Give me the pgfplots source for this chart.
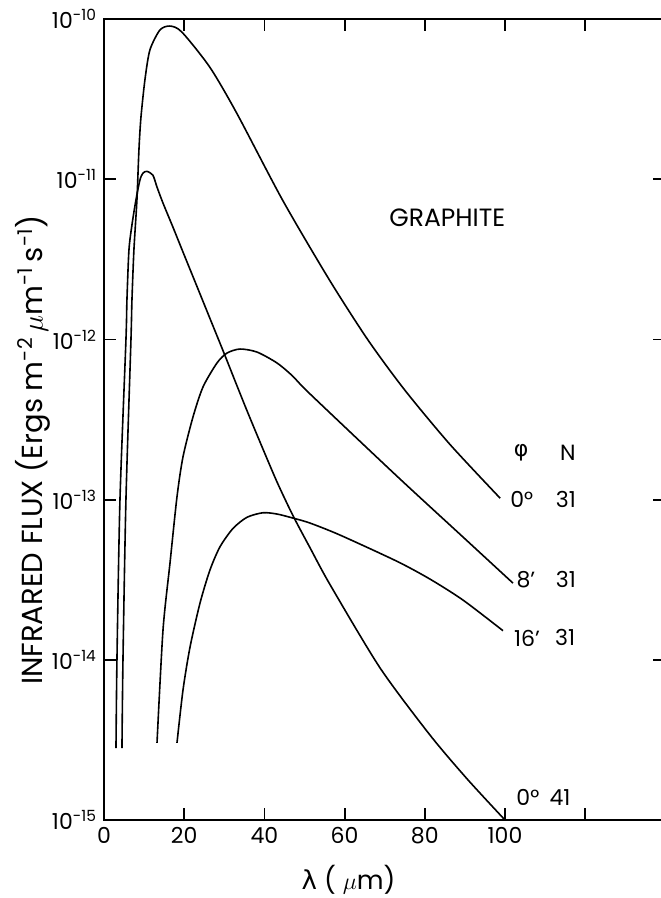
\documentclass[border=0pt]{standalone}
\usepackage{fontspec}
\setmainfont{Poppins}
\newfontfamily\gr{DejaVu Sans}
\usepackage{pgfplots}
\pgfplotsset{compat=1.18}
\begin{document}
\begin{tikzpicture}[x=1pt,y=1pt]
\begin{axis}[
  at={(0,0)}, anchor=south west, scale only axis,
  width=280.7pt, height=400.5pt,
  xmin=0, xmax=140, ymin=1e-15, ymax=1e-10, ymode=log,
  axis line style={line width=1.4pt},
  every tick/.style={line width=0.9pt, black},
  major tick length=6pt, tick align=inside,
  xtick={0,20,40,60,80,100,120},
  xticklabels={0,20,40,60,80,100,{}},
  ytick={1e-15,1e-14,1e-13,1e-12,1e-11,1e-10},
  yticklabels={10\textsuperscript{-15},10\textsuperscript{-14},10\textsuperscript{-13},10\textsuperscript{-12},10\textsuperscript{-11},10\textsuperscript{-10}},
  yminorticks=false,
  ticklabel style={font=\fontsize{11}{11}\selectfont},
  cycle list={{black, no markers}},
  every axis plot/.append style={line width=0.8pt, black, mark=none, smooth, tension=0.45},
]
% phi 0, N 31
\addplot coordinates {(4.48,2.81e-15)(4.73,9.98e-15)(5.47,9.93e-14)(6.72,9.9e-13)(6.97,1.76e-12)(7.46,3.61e-12)(8.21,7.41e-12)(8.71,1.52e-11)(9.20,2.41e-11)(10.2,4.16e-11)(11.44,6.40e-11)(13.93,8.53e-11)(16.42,9.04e-11)(19.40,8.30e-11)(26.37,5.01e-11)(33.08,2.59e-11)(44.53,7.41e-12)(56.22,2.35e-12)(65.84,9.91e-13)(75.06,4.81e-13)(86.28,2.21e-13)(98.8,1.02e-13)};
% phi 0, N 41
\addplot coordinates {(2.99,2.81e-15)(3.23,9.98e-15)(3.98,9.93e-14)(5.47,9.9e-13)(5.72,1.76e-12)(6.22,3.61e-12)(6.97,5.18e-12)(7.96,7.41e-12)(8.96,9.88e-12)(9.70,1.09e-11)(10.70,1.12e-11)(12.19,1.06e-11)(13.22,8.93e-12)(14.71,7.10e-12)(17.21,5.01e-12)(19.70,3.51e-12)(23.19,2.14e-12)(26.43,1.35e-12)(29.68,8.51e-13)(33.17,5.13e-13)(35.66,3.59e-13)(38.90,2.29e-13)(43.14,1.29e-13)(47.13,7.94e-14)(51.37,5.01e-14)(56.36,2.95e-14)(68.83,8.91e-15)(81.3,3.39e-15)(90.6,1.80e-15)(100,1e-15)};
% phi 8', N 31
\addplot coordinates {(13.22,3.03e-15)(14.71,1.53e-14)(16.46,4.02e-14)(18.20,1.04e-13)(19.70,1.85e-13)(22.19,3.28e-13)(24.69,5.05e-13)(28.18,7.13e-13)(30.67,8.22e-13)(33.92,8.71e-13)(38.15,8.34e-13)(43.14,7.13e-13)(47.0,5.92e-13)(51.37,4.57e-13)(73.07,1.40e-13)(89.53,5.84e-14)(102.0,3.01e-14)};
% phi 16', N 31
\addplot coordinates {(18.20,3.03e-15)(19.70,6.48e-15)(21.45,1.20e-14)(23.94,2.26e-14)(26.43,3.64e-14)(28.93,5.08e-14)(32.17,6.61e-14)(35.66,7.76e-14)(39.65,8.28e-14)(43.14,8.13e-14)(47.13,7.67e-14)(51.37,7.14e-14)(58.85,6.01e-14)(73.07,4.12e-14)(81.3,3.19e-14)(89.53,2.36e-14)(99.5,1.52e-14)};

\node[font=\fontsize{12.5}{12.5}\selectfont] at (axis cs:85.6,5.73e-12) {GRAPHITE};
\begin{scope}[every node/.style={font=\fontsize{11}{11}\selectfont}]
\node at (axis cs:104,1.95e-13) {\gr φ};
\node at (axis cs:115.7,1.95e-13) {N};
\node at (axis cs:104.2,1.0e-13) {0°};
\node at (axis cs:115.2,1.0e-13) {31};
\node at (axis cs:105.2,3.16e-14) {8'};
\node at (axis cs:115.2,3.16e-14) {31};
\node at (axis cs:105.5,1.37e-14) {16'};
\node at (axis cs:115.0,1.37e-14) {31};
\node at (axis cs:105.7,1.39e-15) {0°};
\node at (axis cs:113.7,1.39e-15) {41};
\end{scope}
\end{axis}
\node[rotate=90, font=\fontsize{14.5}{14.5}\selectfont] at (-35.5pt,185pt) {INFRARED FLUX (Ergs m\textsuperscript{-2}\,$\mu$m\textsuperscript{-1}\,s\textsuperscript{-1})};
\node[font=\fontsize{13}{13}\selectfont] at (122.3pt,-30pt) {{\gr λ} ( $\mu$m)};
\pgfresetboundingbox
\path[use as bounding box] (-52pt,-39pt) rectangle (278pt,410pt);
\end{tikzpicture}
\end{document}
